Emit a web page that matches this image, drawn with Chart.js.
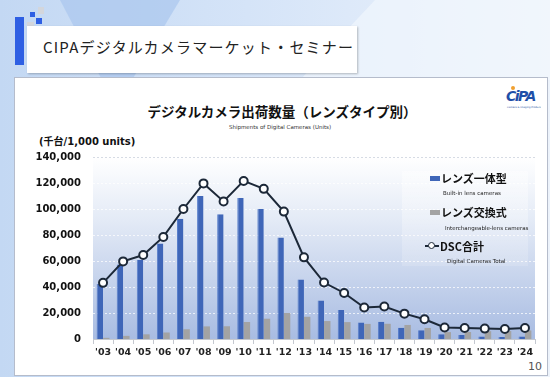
<!DOCTYPE html>
<html>
<head>
<meta charset="utf-8">
<script src="https://cdn.jsdelivr.net/npm/chart.js@4.4.1/dist/chart.umd.min.js"></script>
<style>
  html, body { margin: 0; padding: 0; }
  body { width: 550px; height: 377px; position: relative; overflow: hidden;
    background: linear-gradient(90deg, #c3d8f3 0%, #d5e4f8 45%, #edf3fb 100%); }
  .shape1 { position: absolute; left: 60px; top: 0; width: 120px; height: 80px;
    background: #aac6ee; clip-path: polygon(0 0, 100% 0, 60% 100%, 35% 100%); opacity: 0.7; }
  .shape2 { position: absolute; left: 300px; top: 0; width: 250px; height: 80px;
    background: #f4f8fd; clip-path: polygon(30% 0, 100% 0, 100% 100%, 0 100%); opacity: 0.6; }
  .sq { position: absolute; }
  .bar { position: absolute; left: 15px; top: 17px; width: 9px; height: 48px; background: #2e5fe3; }
  .header { position: absolute; left: 27px; top: 26px; width: 330px; height: 47px; background: #fff;
    box-shadow: 1px 1px 2px rgba(0,0,0,0.25); }
  .header span { position: absolute; left: 16px; top: 10px; font-family: "Noto Sans CJK JP", sans-serif;
    font-size: 15px; letter-spacing: 1.2px; color: #222; }
  .panel { position: absolute; left: 14px; top: 77px; width: 532px; height: 297px; background: #fff;
    border: 1px solid #b5bccb; }
  .title { position: absolute; left: 0; width: 564px; top: 101px; text-align: center;
    font-family: "Noto Sans CJK JP", sans-serif; font-weight: bold; font-size: 13.5px; color: #111; }
  .subtitle { position: absolute; left: 0; width: 560px; top: 124px; text-align: center;
    font-family: "DejaVu Sans", sans-serif; font-size: 5.5px; color: #333; }
  .unit { position: absolute; left: 39px; top: 133px; font-family: "DejaVu Sans", "Noto Sans CJK JP", sans-serif;
    font-weight: bold; font-size: 10px; color: #111; }
  .logo { position: absolute; left: 505px; top: 86px; width: 36px; height: 28px; overflow: hidden;
    font-family: "DejaVu Sans", sans-serif; font-style: italic; font-weight: bold; font-size: 14px;
    color: #1f4fa8; letter-spacing: -1.5px; }
  .logo i { position: absolute; left: 6px; top: 0; width: 4px; height: 4px; border-radius: 50%; background: #f0a030; }
  .logo span { position: absolute; left: 1px; top: 2px; }
  .logo small { position: absolute; left: 2px; top: 20px; font-size: 2.5px; font-style: normal; font-weight: normal;
    white-space: nowrap; color: #2050a0; letter-spacing: 0; }
  .page { position: absolute; left: 528px; top: 360px; font-family: "DejaVu Sans", sans-serif; font-size: 11px; color: #555; }
  #wrap { position: absolute; left: 0; top: 0; width: 550px; height: 377px; }
  .legend { position: absolute; left: 402px; top: 171px; width: 126px; height: 95px;
    background: linear-gradient(180deg, rgba(255,255,255,0.45), rgba(255,255,255,0.15)); }
  .lg { position: absolute; font-family: "Noto Sans CJK JP", sans-serif; font-weight: bold; font-size: 11px; color: #111; white-space: nowrap; }
  .ls { position: absolute; font-family: "DejaVu Sans", sans-serif; font-size: 5.5px; color: #222; white-space: nowrap; }
  .sw { position: absolute; width: 10px; height: 5px; }
</style>
</head>
<body>
<div class="shape1"></div>
<div class="shape2"></div>
<div class="sq" style="left:30px;top:12px;width:5px;height:5px;background:#2e5fe3"></div>
<div class="sq" style="left:38px;top:7px;width:6px;height:7px;background:#d3d6dc"></div>
<div class="sq" style="left:36px;top:18px;width:6px;height:6px;background:#2e5fe3"></div>
<div class="sq" style="left:27px;top:22px;width:7px;height:7px;background:#d3d6dc"></div>
<div class="bar"></div>
<div class="header"><span>CIPAデジタルカメラマーケット・セミナー</span></div>
<div class="panel"></div>
<div class="title">デジタルカメラ出荷数量（レンズタイプ別）</div>
<div class="subtitle">Shipments of Digital Cameras (Units)</div>
<div class="unit">(千台/1,000 units)</div>
<div class="logo"><i></i><span>CiPA</span><small>Camera &amp; Imaging Products Association</small></div>
<div class="page">10</div>
<div id="wrap"><canvas id="chart" width="550" height="377"></canvas></div>
<div class="legend"></div>
<div class="sw" style="left:430px;top:176px;background:#3f66b8"></div>
<div class="lg" style="left:441px;top:170px">レンズ一体型</div>
<div class="ls" style="left:443px;top:190px">Built-in lens cameras</div>
<div class="sw" style="left:430px;top:210px;background:#a3a3a3"></div>
<div class="lg" style="left:441px;top:204px">レンズ交換式</div>
<div class="ls" style="left:445px;top:225px">Interchangeable-lens cameras</div>
<div style="position:absolute;left:425px;top:245px;width:14px;height:2px;background:#1c2838"></div>
<div style="position:absolute;left:428px;top:242px;width:5px;height:5px;border:1.5px solid #1c2838;border-radius:50%;background:#fff"></div>
<div class="lg" style="left:440px;top:238px">DSC合計</div>
<div class="ls" style="left:447px;top:258px">Digital Cameras Total</div>

<script>
// shipments, thousand units
const years = ["'03", "'04", "'05", "'06", "'07", "'08", "'09", "'10", "'11", "'12", "'13",
  "'14", "'15", "'16", "'17", "'18", "'19", "'20", "'21", "'22", "'23", "'24"];
const builtIn = [42300, 57300, 61000, 73500, 92500, 110000, 96000, 108500, 100000, 78000, 45700,
  29600, 22400, 12600, 13300, 8700, 6700, 3600, 3000, 2000, 1600, 1900];
const interchangeable = [900, 2400, 3600, 5000, 7500, 9700, 9800, 13100, 15600, 20000, 17100,
  13800, 13000, 11600, 11700, 10800, 8500, 5300, 5400, 6000, 6100, 6600];
const total = [43200, 59700, 64600, 78500, 100000, 119700, 105800, 121600, 115500, 98000, 62800,
  43400, 35400, 24200, 25000, 19500, 15200, 8900, 8400, 8000, 7700, 8500];
const yTicks = [0, 20000, 40000, 60000, 80000, 100000, 120000, 140000];

const plotBg = {
  id: 'plotBg',
  beforeDraw(chart) {
    const { ctx, chartArea: a } = chart;
    const g = ctx.createLinearGradient(0, a.top, 0, a.bottom);
    g.addColorStop(0, '#ffffff');
    g.addColorStop(0.35, '#e3eaf6');
    g.addColorStop(1, '#a8bce2');
    ctx.save();
    ctx.fillStyle = g;
    ctx.fillRect(a.left, a.top, a.right - a.left, a.bottom - a.top);
    ctx.restore();
  }
};

new Chart(document.getElementById('chart'), {
  type: 'bar',
  plugins: [plotBg],
  data: {
    labels: years,
    datasets: [
      {
        type: 'line',
        label: 'DSC合計',
        data: total,
        borderColor: '#1c2838',
        borderWidth: 2,
        pointRadius: 4,
        pointBorderWidth: 2,
        pointBackgroundColor: '#ffffff',
        pointBorderColor: '#1c2838',
        tension: 0,
        order: 0
      },
      {
        label: 'レンズ一体型',
        data: builtIn,
        backgroundColor: '#3f66b8',
        borderColor: '#5a80cc',
        borderWidth: { left: 1, right: 0, top: 0, bottom: 0 },
        categoryPercentage: 0.64,
        barPercentage: 1.0,
        order: 1
      },
      {
        label: 'レンズ交換式',
        data: interchangeable,
        backgroundColor: '#a3a3a3',
        categoryPercentage: 0.64,
        barPercentage: 1.0,
        order: 1
      }
    ]
  },
  options: {
    responsive: false,
    animation: false,
    layout: { padding: { left: 0, right: 15, top: 157, bottom: 0 } },
    plugins: {
      legend: { display: false },
      tooltip: { enabled: false }
    },
    scales: {
      x: {
        grid: {
          offset: true,
          drawOnChartArea: false,
          tickLength: 5,
          color: '#c4c8d0'
        },
        border: { display: true, color: '#c4c8d0' },
        ticks: {
          padding: 3,
          color: '#222',
          maxRotation: 0,
          minRotation: 0,
          autoSkip: false,
          font: { family: 'DejaVu Sans', size: 9.5, weight: 'bold' }
        },
        afterFit(scale) { scale.height = 38; }
      },
      y: {
        min: 0,
        max: 140000,
        afterBuildTicks(scale) { scale.ticks = yTicks.map(v => ({ value: v })); },
        grid: {
          drawTicks: false,
          color: ctx => ctx.tick && ctx.tick.value === 140000 ? '#d6dbe4' : 'rgba(255,255,255,0.75)',
          lineWidth: ctx => ctx.tick && ctx.tick.value === 0 ? 0 : 1
        },
        border: { display: false, dash: [2, 2] },
        ticks: {
          padding: 12,
          color: '#111',
          font: { family: 'DejaVu Sans', size: 10, weight: 'bold' },
          callback: v => v.toLocaleString('en-US')
        },
        afterFit(scale) { scale.width = 93; }
      }
    }
  }
});
</script>
</body>
</html>
